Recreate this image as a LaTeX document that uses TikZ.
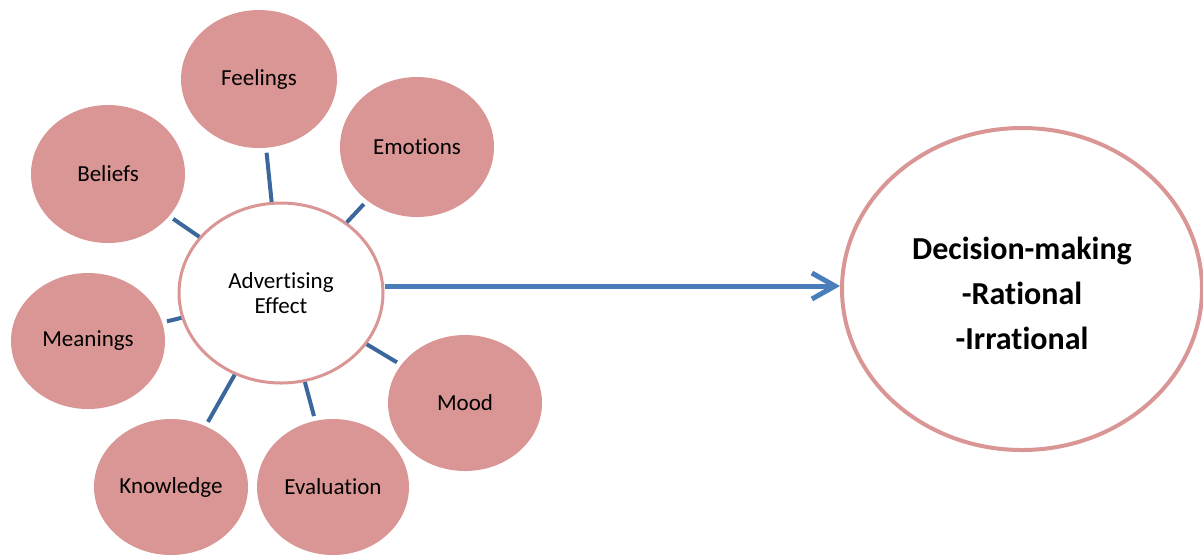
\documentclass[tikz,border=0pt]{standalone}
\usepackage{fontspec}
\setmainfont[Ligatures=NoCommon]{Carlito}
\usetikzlibrary{shapes.geometric,arrows.meta}
\definecolor{bubble}{HTML}{D99694}
\definecolor{spokeblue}{HTML}{3C679C}
\definecolor{arrowblue}{HTML}{4A7EBB}

\begin{document}
\begin{tikzpicture}[x=0.5pt,y=-0.5pt,
  bubble/.style={ellipse, fill=bubble, inner sep=0pt, minimum width=77pt, minimum height=68pt, font=\fontsize{11.5}{12.5}\selectfont},
  ring/.style={ellipse, draw=bubble, fill=white, inner sep=0pt, align=center},
  spoke/.style={draw=spokeblue, line width=2pt, shorten >=2.3pt}]
\useasboundingbox (0,0) rectangle (1203,554);
% outer bubbles
\node[bubble, minimum width=78pt, minimum height=69pt] (feel) at (259,79) {Feelings};
\node[bubble, minimum height=69pt] (belief) at (108,174) {Beliefs};
\node[bubble, minimum height=70pt] (emo) at (417,147) {Emotions};
\node[bubble] (mean) at (88,341) {Meanings};
\node[bubble] (mood) at (465,403) {Mood};
\node[bubble] (know) at (171,487) {Knowledge};
\node[bubble, minimum width=76pt] (eval) at (333,487) {Evaluation};
% centre and result
\node[ring, line width=1.5pt, minimum width=102pt, minimum height=90pt,
  font=\fontsize{11.5}{12.5}\selectfont] (adv) at (281,293) {Advertising\\Effect};
\node[ring, line width=2pt, minimum width=180pt, minimum height=161pt,
  font=\fontsize{16}{22.5}\selectfont\bfseries] (dec) at (1022,289) {\rule{0pt}{16pt}Decision-making\\-Rational\\-Irrational};
\path[spoke]
  (adv) edge (feel)
        edge (belief)
        edge (emo)
        edge (mean)
        edge (mood)
        edge (know)
        edge (eval);
\draw[arrowblue, line width=2.5pt, -{Straight Barb[length=11.5pt,width=13pt]}]
  ([yshift=3.5pt]adv.east) -- ([yshift=3.5pt]adv.east -| dec.west);
\end{tikzpicture}
\end{document}
